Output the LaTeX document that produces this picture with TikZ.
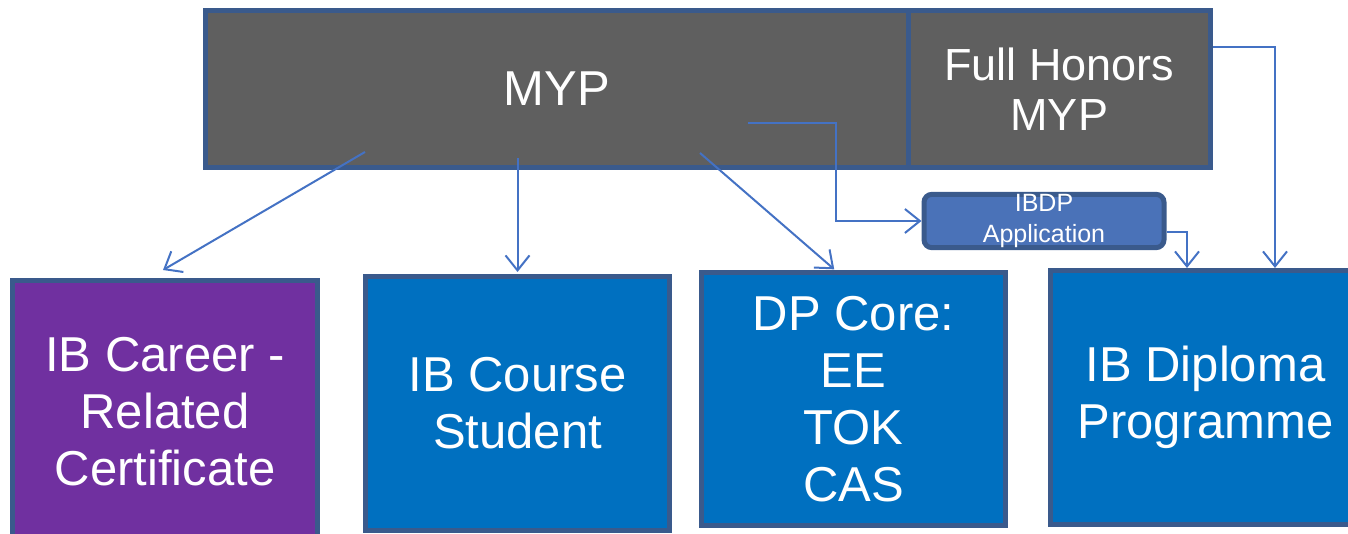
\documentclass[tikz,border=0pt]{standalone}
\usepackage{fontspec}
\setmainfont{Liberation Sans}
\usetikzlibrary{arrows.meta}
\definecolor{rim}{HTML}{3A5A8C}
\definecolor{mypgrey}{HTML}{5F5F5F}
\definecolor{cpurple}{HTML}{7030A0}
\definecolor{dpblue}{HTML}{0070C0}
\definecolor{appblue}{HTML}{4A72B8}
\definecolor{link}{HTML}{4472C4}
\begin{document}
\begin{tikzpicture}[x=1pt,y=-1pt]
        \tikzset{box/.style = {draw=rim,line width=5pt,text=white,align=center,inner sep=0pt,
                               font=\fontsize{49}{57}\selectfont}}
        \tikzset{edge/.style = {->,draw=link,line width=2pt,>={Straight Barb[length=15pt,width=24pt]}}}
        \useasboundingbox (0,0) rectangle (1348,534);
        % top row
        \node[box,fill=mypgrey,minimum width=702.5pt,minimum height=157pt] (myp) at (556.75,89) {MYP};
        \node[box,fill=mypgrey,minimum width=302.5pt,minimum height=157pt,
              font=\fontsize{45}{50}\selectfont] (honors) at (1059.25,89) {Full Honors\\MYP};
        \node[box,fill=appblue,rounded corners=8pt,minimum width=240pt,minimum height=46pt,
              font=\fontsize{25}{31}\selectfont] (ibdp) at (1044,221) {IBDP\\Application};
        % bottom row
        \node[box,fill=cpurple,minimum width=305pt,minimum height=262pt] (career) at (165,411.5) {IB Career -\\Related\\Certificate};
        \node[box,fill=dpblue,minimum width=304pt,minimum height=254pt] (course) at (517.5,403.5) {IB Course\\Student};
        \node[box,fill=dpblue,minimum width=304pt,minimum height=253pt] (dpcore) at (853.5,399) {DP Core:\\EE\\TOK\\CAS};
        \node[box,fill=dpblue,minimum width=310pt,minimum height=254pt] (diploma) at (1205.5,397.5) {IB Diploma\\Programme};
        % starts inside the MYP box
        \coordinate (toCareer) at (365,152);
        \coordinate (toCourse) at (517.5,158);
        \coordinate (toCore) at (700,153);
        \coordinate (toApp) at (748,123);
        %edges
        \draw[edge] (toCareer) -- ([xshift=-2pt,yshift=8pt]career.north);
        \draw[edge,shorten >=2pt] (toCourse) -- (course.north);
        \draw[edge,shorten >=1pt] (toCore) -- ([xshift=-18.5pt]dpcore.north);
        \draw[edge] (toApp) -| ([xshift=-85.5pt]ibdp.west) -- (ibdp.west);
        \draw[edge] ([yshift=-11pt]ibdp.east) -| ([xshift=-18.5pt]diploma.north);
        \draw[edge] ([yshift=42pt]honors.east) -| ([xshift=69.5pt]diploma.north);
    \end{tikzpicture}
\end{document}
